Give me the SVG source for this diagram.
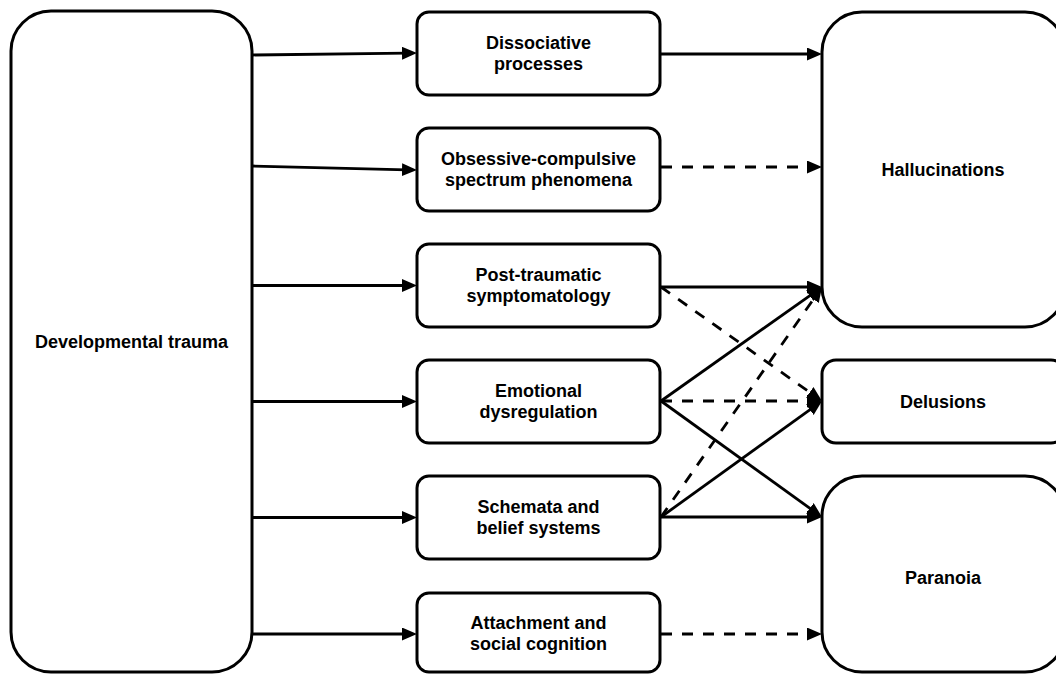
<svg xmlns="http://www.w3.org/2000/svg" width="1056" height="675" viewBox="0 0 1056 675">
<style>
.box{fill:#fff;stroke:#000;stroke-width:3}
.lbl{font-family:"Liberation Sans",Arial,sans-serif;font-weight:bold;font-size:18px;fill:#000;text-anchor:middle}
.c{fill:none;stroke:#000;stroke-width:2.8}
.d{stroke-dasharray:11 10}
</style>
<defs>
<marker id="ah" markerUnits="userSpaceOnUse" markerWidth="16" markerHeight="14" refX="5" refY="6.5" orient="auto">
<path d="M0,0 L15,6.5 L0,13 z" fill="#000" stroke="none"/>
</marker>
</defs>
<rect width="1056" height="675" fill="#fff"/>
<g id="n-dev"><rect class="box" x="11" y="11" width="241" height="661" rx="40"/><text class="lbl" x="131.5" y="348">Developmental trauma</text></g>
<g id="n-diss"><rect class="box" x="417" y="12" width="243" height="83" rx="12"/><text class="lbl" x="538.5" y="49">Dissociative</text><text class="lbl" x="538.5" y="70">processes</text></g>
<g id="n-ocd"><rect class="box" x="417" y="128" width="243" height="83" rx="12"/><text class="lbl" x="538.5" y="165">Obsessive-compulsive</text><text class="lbl" x="538.5" y="186">spectrum phenomena</text></g>
<g id="n-ptsd"><rect class="box" x="417" y="244" width="243" height="83" rx="12"/><text class="lbl" x="538.5" y="281">Post-traumatic</text><text class="lbl" x="538.5" y="302">symptomatology</text></g>
<g id="n-emo"><rect class="box" x="417" y="360" width="243" height="83" rx="12"/><text class="lbl" x="538.5" y="397">Emotional</text><text class="lbl" x="538.5" y="418">dysregulation</text></g>
<g id="n-sch"><rect class="box" x="417" y="476" width="243" height="83" rx="12"/><text class="lbl" x="538.5" y="513">Schemata and</text><text class="lbl" x="538.5" y="534">belief systems</text></g>
<g id="n-att"><rect class="box" x="417" y="593" width="243" height="79" rx="12"/><text class="lbl" x="538.5" y="629">Attachment and</text><text class="lbl" x="538.5" y="650">social cognition</text></g>
<g id="n-hal"><rect class="box" x="822" y="12" width="243" height="315" rx="40"/><text class="lbl" x="943" y="176">Hallucinations</text></g>
<g id="n-del"><rect class="box" x="822" y="360" width="243" height="83" rx="14"/><text class="lbl" x="943" y="408">Delusions</text></g>
<g id="n-par"><rect class="box" x="822" y="476" width="243" height="196" rx="40"/><text class="lbl" x="943" y="584">Paranoia</text></g>
<g id="connectors">
<path class="c" d="M252,55 L407,53.2" marker-end="url(#ah)"/>
<path class="c" d="M252,166 L407,169.8" marker-end="url(#ah)"/>
<path class="c" d="M252,285.5 L407,285.5" marker-end="url(#ah)"/>
<path class="c" d="M252,401.5 L407,401.5" marker-end="url(#ah)"/>
<path class="c" d="M252,517.5 L407,517.5" marker-end="url(#ah)"/>
<path class="c" d="M252,634 L407,634" marker-end="url(#ah)"/>
<path class="c" d="M661,54 L812,54" marker-end="url(#ah)"/>
<path class="c d" d="M661,167 L812,167" marker-end="url(#ah)"/>
<path class="c" d="M661,287 L812,287" marker-end="url(#ah)"/>
<path class="c d" d="M661,287 L813.8,395.2" marker-end="url(#ah)"/>
<path class="c" d="M661,401 L813.8,292.8" marker-end="url(#ah)"/>
<path class="c d" d="M661,401 L812,401" marker-end="url(#ah)"/>
<path class="c" d="M661,401 L813.9,511.2" marker-end="url(#ah)"/>
<path class="c d" d="M661,517 L816.3,295.2" marker-end="url(#ah)"/>
<path class="c" d="M661,517 L813.9,406.8" marker-end="url(#ah)"/>
<path class="c" d="M661,517 L812,517" marker-end="url(#ah)"/>
<path class="c d" d="M661,634 L812,634" marker-end="url(#ah)"/>
</g>
</svg>
